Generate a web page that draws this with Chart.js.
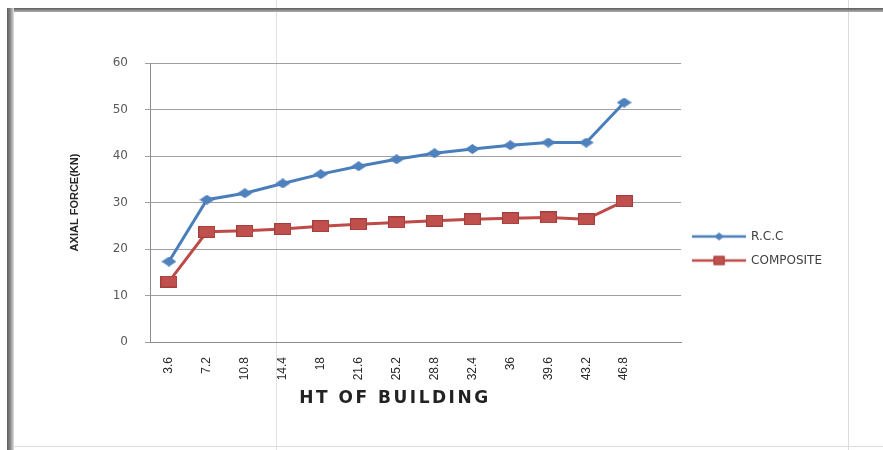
<!DOCTYPE html>
<html>
<head>
<meta charset="utf-8">
<script src="https://cdn.jsdelivr.net/npm/chart.js@4/dist/chart.umd.min.js"></script>
<style>
html,body{margin:0;padding:0;background:#fff;}
#wrap{position:relative;width:883px;height:450px;overflow:hidden;background:#fff;}
.f{position:absolute;}
#chartbox{position:absolute;left:0;top:0;width:883px;height:450px;}
</style>
</head>
<body>
<div id="wrap">
  <div class="f" style="left:276px;top:0;width:1px;height:450px;background:#e2e2e2"></div>
  <div class="f" style="left:848px;top:0;width:1px;height:450px;background:#dcdcdc"></div>
  <div class="f" style="left:7px;top:8px;width:876px;height:4px;background:linear-gradient(#5c5c5c,#b0b0b0)"></div>
  <div class="f" style="left:7px;top:8px;width:7px;height:442px;background:linear-gradient(90deg,#5c5c5c,#8c8c8c,#e0e0e0)"></div>
  <div class="f" style="left:14px;top:446px;width:869px;height:1px;background:#dddddd"></div>
  <div id="chartbox"><canvas id="c"></canvas></div>
</div>
<script>
// ---- data ----
const heights = ['3.6','7.2','10.8','14.4','18','21.6','25.2','28.8','32.4','36','39.6','43.2','46.8',''];
const rccValues = [17.3,30.6,32.0,34.1,36.1,37.8,39.3,40.6,41.5,42.3,42.9,42.9,51.5,null];
const compositeValues = [13.0,23.7,23.9,24.3,24.9,25.3,25.7,26.1,26.4,26.6,26.8,26.4,30.3,null];
const seriesNames = ['R.C.C','COMPOSITE'];
const yAxisTitle = 'AXIAL FORCE(KN)';
const xAxisTitle = 'HT OF BUILDING';

// ---- styles ----
const blue = '#4A7EBB', blueFill = '#4F81BD';
const red = '#BE4B48', redFill = '#C0504D', redEdge = '#A23E3B';

function makeCanvas(w,h){const c=document.createElement('canvas');c.width=w;c.height=h;return c;}
function drawDiamond(ctx,cx,cy,w,h,fill){
  ctx.beginPath();ctx.moveTo(cx,cy-h/2);ctx.lineTo(cx+w/2,cy);ctx.lineTo(cx,cy+h/2);ctx.lineTo(cx-w/2,cy);ctx.closePath();
  ctx.fillStyle=fill;ctx.fill();
}
function drawSquare(ctx,cx,cy,w,h,fill,edge){
  ctx.fillStyle=fill;ctx.fillRect(cx-w/2,cy-h/2,w,h);
  ctx.strokeStyle=edge;ctx.lineWidth=1;ctx.strokeRect(cx-w/2+0.5,cy-h/2+0.5,w-1,h-1);
}
const diamondImg = makeCanvas(15,10); drawDiamond(diamondImg.getContext('2d'),7.5,5,15,10,blueFill);
const squareImg = makeCanvas(17,12); drawSquare(squareImg.getContext('2d'),8.5,6,17,12,redFill,redEdge);
function legendImg(color,kind){
  const c=makeCanvas(54,12);const x=c.getContext('2d');
  x.strokeStyle=color;x.lineWidth=2.5;x.beginPath();x.moveTo(0,6);x.lineTo(54,6);x.stroke();
  if(kind==='d') drawDiamond(x,27,6,10,8,blueFill); else drawSquare(x,27,6,11,9,redFill,redEdge);
  return c;
}
const legendImgs=[legendImg(blue,'d'),legendImg(red,'s')];

const xTitlePlugin = {
  id:'xTitlePlugin',
  afterDraw(chart){
    const ctx=chart.ctx, a=chart.chartArea;
    ctx.save();
    ctx.font='bold 17px "DejaVu Sans"';
    try{ctx.letterSpacing='2.5px';}catch(e){}
    ctx.fillStyle='#222222';ctx.textAlign='center';ctx.textBaseline='middle';
    ctx.fillText(xAxisTitle, a.left+245, a.bottom+57);
    ctx.restore();
  }
};

new Chart(document.getElementById('c'),{
  type:'line',
  data:{
    labels:heights,
    datasets:[
      {label:seriesNames[0],data:rccValues,borderColor:blue,backgroundColor:blueFill,borderWidth:3,pointStyle:diamondImg,pointRadius:4,tension:0,spanGaps:false},
      {label:seriesNames[1],data:compositeValues,borderColor:red,backgroundColor:redFill,borderWidth:3,pointStyle:squareImg,pointRadius:4,tension:0,spanGaps:false}
    ]
  },
  options:{
    responsive:true,maintainAspectRatio:false,animation:false,
    events:[],
    layout:{padding:{left:60,top:63,right:51,bottom:16}},
    plugins:{
      tooltip:{enabled:false},
      legend:{
        position:'right',
        labels:{
          usePointStyle:true,pointStyleWidth:52,padding:12,
          color:'#404040',font:{family:'DejaVu Sans',size:12},
          generateLabels:(chart)=>chart.data.datasets.map((ds,i)=>({
            text:ds.label,pointStyle:legendImgs[i],fillStyle:ds.borderColor,strokeStyle:ds.borderColor,
            lineWidth:0,hidden:false,datasetIndex:i,fontColor:'#404040'
          }))
        }
      }
    },
    scales:{
      x:{
        offset:true,
        grid:{display:false,drawTicks:false},
        border:{display:true,color:'#8c8c8c',width:1},
        ticks:{autoSkip:false,maxRotation:90,minRotation:90,padding:15,color:'#2a2a2a',font:{family:'Liberation Sans',size:12}},
        afterFit(s){s.height=92;}
      },
      y:{
        min:0,max:60,
        ticks:{stepSize:10,padding:17,color:'#595959',font:{family:'DejaVu Sans',size:12}},
        grid:{color:'#a0a0a0',lineWidth:1,drawTicks:true,tickLength:5},
        border:{display:true,color:'#8c8c8c',width:1},
        title:{display:true,text:yAxisTitle,color:'#262626',font:{family:'Liberation Sans',weight:'bold',size:11},padding:{top:8,bottom:0}},
        afterFit(s){s.width=90;}
      }
    }
  },
  plugins:[xTitlePlugin]
});
</script>
</body>
</html>
